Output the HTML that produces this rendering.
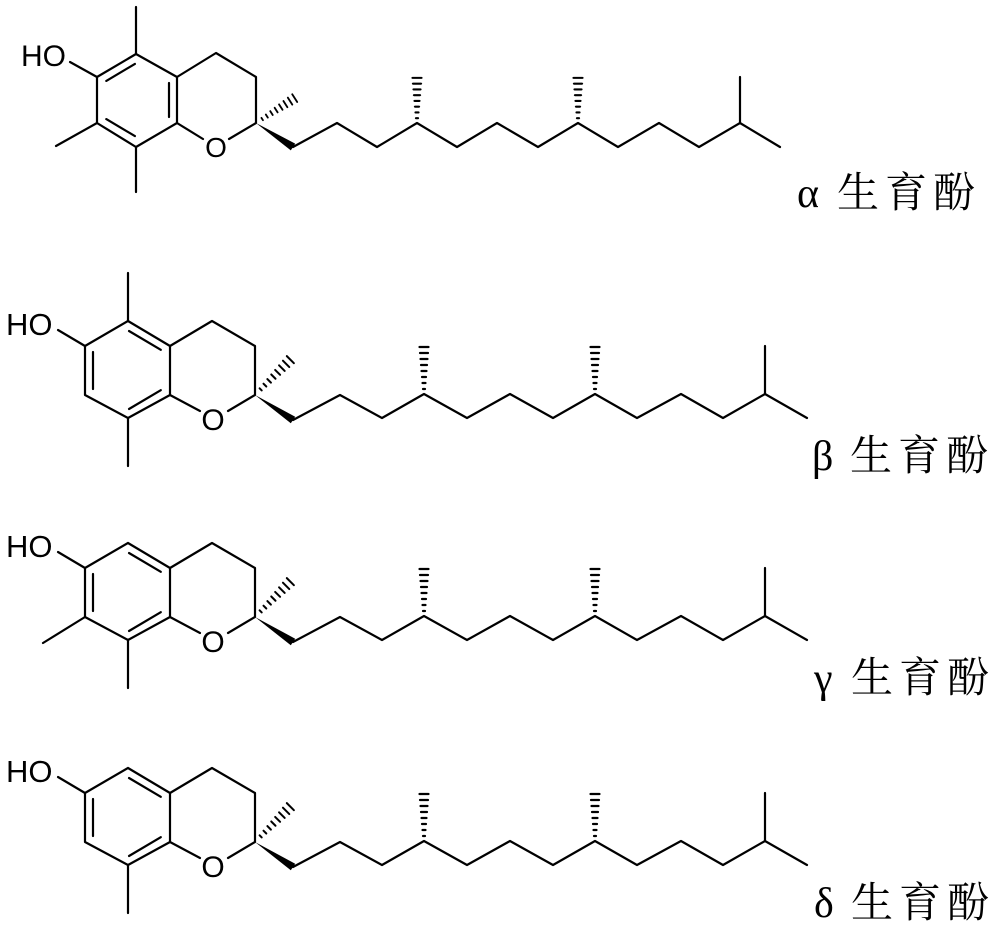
<!DOCTYPE html>
<html><head><meta charset="utf-8"><style>
html,body{margin:0;padding:0;background:#fff;}
svg{display:block;}
.b{stroke:#000;stroke-width:2.2;fill:none;stroke-linecap:round;stroke-linejoin:round;}
.t{font-family:"Liberation Sans",sans-serif;fill:#000;}
.c{font-family:"Liberation Serif","Noto Serif CJK SC",serif;fill:#000;font-size:42px;}
</style></head><body>
<svg width="1000" height="933" viewBox="0 0 1000 933" xmlns="http://www.w3.org/2000/svg">
<defs>
<g id="vh" class="b" style="stroke-width:2.2">
<line x1="-1" y1="-5" x2="1" y2="-5"/><line x1="-1.5" y1="-11" x2="1.5" y2="-11"/><line x1="-2" y1="-17" x2="2" y2="-17"/><line x1="-2.5" y1="-23" x2="2.5" y2="-23"/><line x1="-3" y1="-29" x2="3" y2="-29"/><line x1="-3.5" y1="-35" x2="3.5" y2="-35"/><line x1="-4" y1="-41" x2="4" y2="-41"/><line x1="-4.5" y1="-47" x2="4.5" y2="-47"/>
</g>
<g id="dh" class="b" style="stroke-width:2">
<line x1="8" y1="-1.5" x2="8" y2="1.5"/><line x1="14" y1="-2" x2="14" y2="2"/><line x1="20" y1="-2.5" x2="20" y2="2.5"/><line x1="26" y1="-3" x2="26" y2="3"/><line x1="32" y1="-3.5" x2="32" y2="3.5"/><line x1="38" y1="-4" x2="38" y2="4"/><line x1="44" y1="-4.5" x2="44" y2="4.5"/><line x1="50" y1="-5" x2="50" y2="5"/>
</g>
<g id="core2">
<polyline class="b" points="128,321 85,346 85,395 128,418 170,395 170,346 128,321"/>
<line class="b" x1="129" y1="331" x2="160.8" y2="349.8"/>
<line class="b" x1="93" y1="352" x2="93" y2="389"/>
<line class="b" x1="129" y1="409" x2="160.8" y2="390.2"/>
<line class="b" x1="128" y1="418" x2="128" y2="466"/>
<line class="b" x1="85" y1="346" x2="58" y2="330"/>
<text class="t" x="6" y="335" font-size="31">HO</text>
<polyline class="b" points="170,346 212,321 255,346 255,395 228,411"/>
<line class="b" x1="170" y1="395" x2="200" y2="411"/>
<text class="t" x="213" y="430" font-size="30" text-anchor="middle">O</text>
<g transform="translate(255,395) rotate(-45)"><use href="#dh"/></g>
<polygon points="255,395 290.8,423.3 295.2,416.7" fill="#000"/>
<polyline class="b" points="293,420 340,395 382,418 424,394 467,418 510,394 553,418 595,394 637,418 681,394 723,418 765,394 807,418"/>
<line class="b" x1="765" y1="394" x2="765" y2="346"/>
<g transform="translate(424,394)"><use href="#vh"/></g>
<g transform="translate(595,394)"><use href="#vh"/></g>
</g>
</defs>

<!-- alpha -->
<polyline class="b" points="136,54 97,77 97,123 136,147 177,123 177,77 136,54"/>
<line class="b" x1="134.9" y1="63.9" x2="106.3" y2="80.9"/>
<line class="b" x1="169" y1="83" x2="169" y2="117"/>
<line class="b" x1="106.3" y1="119.1" x2="134.9" y2="136.1"/>
<line class="b" x1="136" y1="54" x2="136" y2="7"/>
<line class="b" x1="136" y1="147" x2="136" y2="192"/>
<line class="b" x1="97" y1="123" x2="56" y2="146"/>
<line class="b" x1="97" y1="77" x2="70" y2="62"/>
<text class="t" x="21" y="66" font-size="30">HO</text>
<polyline class="b" points="177,77 216,53 256,77 256,123 229,139"/>
<line class="b" x1="177" y1="123" x2="203" y2="139"/>
<text class="t" x="216" y="157" font-size="28" text-anchor="middle">O</text>
<g transform="translate(256,123) rotate(-32.7) scale(0.92)"><use href="#dh"/></g>
<polygon points="256,123 290.8,150.4 295.2,143.6" fill="#000"/>
<polyline class="b" points="293,147 337,123 377,147 417,123 457,147 497,123 538,147 578,123 618,147 659,123 699,147 740,123 780,147"/>
<line class="b" x1="740" y1="123" x2="740" y2="77"/>
<g transform="translate(417,123) scale(1,0.96)"><use href="#vh"/></g>
<g transform="translate(578,123) scale(1,0.96)"><use href="#vh"/></g>
<text class="c" y="207"><tspan x="797">α</tspan><tspan x="837">生</tspan><tspan x="885">育</tspan><tspan x="933">酚</tspan></text>

<!-- beta -->
<use href="#core2"/>
<line class="b" x1="128" y1="321" x2="128" y2="273"/>
<text class="c" y="470"><tspan x="812">β</tspan><tspan x="850">生</tspan><tspan x="898">育</tspan><tspan x="946">酚</tspan></text>

<!-- gamma -->
<g transform="translate(0,222)">
<use href="#core2"/>
<line class="b" x1="85" y1="395" x2="43" y2="421"/>
</g>
<text class="c" y="692"><tspan x="814">γ</tspan><tspan x="851">生</tspan><tspan x="899">育</tspan><tspan x="947">酚</tspan></text>

<!-- delta -->
<g transform="translate(0,447)">
<use href="#core2"/>
</g>
<text class="c" y="917"><tspan x="814">δ</tspan><tspan x="851">生</tspan><tspan x="899">育</tspan><tspan x="947">酚</tspan></text>
</svg>
</body></html>
